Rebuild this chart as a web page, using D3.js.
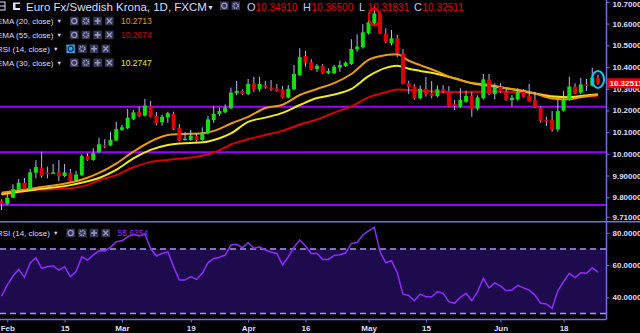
<!DOCTYPE html>
<html>
<head>
<meta charset="utf-8">
<script src="https://cdn.jsdelivr.net/npm/d3@7"></script>
<style>
body { margin: 0; background: #000; overflow: hidden; }
svg { display: block; }
text { font-family: "Liberation Sans", Arial, sans-serif; }
</style>
</head>
<body>
<script>
// EUR/SEK daily candles, 31 Jan - 26 Jun 2018
var opens = [9.784,9.769,9.798,9.835,9.867,9.837,9.913,9.936,9.914,9.912,
9.915,9.898,9.913,9.879,9.902,9.990,9.972,10.007,10.040,10.038,
10.061,10.111,10.118,10.161,10.194,10.176,10.220,10.174,10.145,10.168,
10.184,10.120,10.064,10.064,10.082,10.064,10.095,10.156,10.184,10.191,
10.210,10.279,10.290,10.276,10.325,10.297,10.317,10.305,10.301,10.297,
10.259,10.297,10.363,10.451,10.423,10.391,10.405,10.371,10.371,10.397,
10.404,10.414,10.482,10.491,10.556,10.601,10.647,10.555,10.509,10.532,
10.463,10.325,10.312,10.256,10.299,10.280,10.266,10.297,10.289,10.230,
10.217,10.240,10.267,10.208,10.256,10.343,10.276,10.309,10.286,10.248,
10.251,10.286,10.267,10.248,10.214,10.157,10.156,10.113,10.199,10.249,
10.310,10.282,10.320,10.314,10.3491];
var highs = [9.790,9.821,9.860,9.884,9.889,9.930,9.971,10.010,9.941,9.953,
9.971,9.953,9.930,9.921,9.998,10.003,10.026,10.074,10.067,10.102,
10.148,10.133,10.207,10.202,10.217,10.253,10.243,10.193,10.180,10.194,
10.194,10.137,10.100,10.110,10.095,10.122,10.174,10.220,10.214,10.228,
10.305,10.336,10.297,10.345,10.355,10.355,10.336,10.340,10.322,10.312,
10.317,10.409,10.486,10.475,10.436,10.414,10.414,10.394,10.410,10.429,
10.425,10.528,10.550,10.597,10.650,10.678,10.652,10.578,10.571,10.548,
10.482,10.337,10.320,10.315,10.354,10.335,10.315,10.316,10.312,10.248,
10.302,10.291,10.285,10.270,10.368,10.368,10.325,10.325,10.298,10.271,
10.302,10.298,10.322,10.286,10.220,10.171,10.197,10.248,10.291,10.355,
10.325,10.350,10.345,10.397,10.365];
var lows = [9.741,9.765,9.795,9.825,9.833,9.833,9.887,9.890,9.887,9.910,
9.874,9.892,9.872,9.875,9.898,9.968,9.968,10.003,10.026,10.035,
10.058,10.105,10.113,10.155,10.170,10.172,10.168,10.131,10.130,10.143,
10.110,10.058,10.061,10.060,10.056,10.060,10.090,10.143,10.174,10.187,
10.205,10.270,10.270,10.270,10.286,10.286,10.300,10.290,10.286,10.255,
10.255,10.293,10.360,10.402,10.386,10.378,10.367,10.367,10.367,10.378,
10.400,10.410,10.470,10.485,10.550,10.590,10.552,10.509,10.500,10.445,
10.320,10.276,10.250,10.250,10.264,10.256,10.260,10.280,10.215,10.202,
10.210,10.235,10.171,10.200,10.250,10.270,10.251,10.280,10.245,10.219,
10.245,10.260,10.240,10.210,10.144,10.128,10.102,10.102,10.195,10.245,
10.275,10.275,10.290,10.310,10.31831];
var closes = [9.769,9.798,9.837,9.867,9.837,9.915,9.939,9.898,9.912,9.915,
9.898,9.915,9.875,9.905,9.990,9.972,10.003,10.044,10.037,10.064,
10.114,10.122,10.166,10.191,10.176,10.222,10.171,10.141,10.171,10.187,
10.116,10.061,10.070,10.084,10.064,10.097,10.159,10.184,10.197,10.213,
10.282,10.290,10.276,10.322,10.297,10.322,10.307,10.301,10.290,10.259,
10.300,10.368,10.445,10.420,10.390,10.405,10.371,10.382,10.402,10.409,
10.420,10.483,10.494,10.560,10.606,10.647,10.555,10.514,10.532,10.463,
10.322,10.309,10.256,10.299,10.274,10.266,10.297,10.288,10.218,10.220,
10.248,10.267,10.208,10.260,10.343,10.276,10.307,10.286,10.248,10.259,
10.286,10.263,10.243,10.214,10.153,10.153,10.113,10.197,10.249,10.310,
10.279,10.320,10.317,10.351,10.32511];

// moving averages, read at these bar numbers
var emaIdx = [0,6,12,15,17,20,23,26,29,31,35,38,40,43,46,49,52,55,58,61,64,67,69,71,73,76,79,82,85,88,90,93,96,99,101,104];
var ema20 = [9.821,9.843,9.868,9.890,9.912,9.955,10.010,10.057,10.087,10.091,10.095,10.115,10.140,10.170,10.211,10.226,10.271,10.299,10.326,10.368,10.433,10.455,10.459,10.429,10.409,10.379,10.347,10.327,10.318,10.302,10.295,10.278,10.255,10.251,10.261,10.2713];
var ema30 = [9.815,9.836,9.856,9.874,9.889,9.926,9.979,10.018,10.041,10.048,10.053,10.072,10.094,10.147,10.167,10.189,10.225,10.257,10.273,10.299,10.358,10.396,10.406,10.392,10.382,10.368,10.348,10.325,10.314,10.302,10.293,10.278,10.264,10.261,10.266,10.2747];
var ema55 = [9.810,9.833,9.841,9.857,9.878,9.902,9.938,9.963,9.972,9.978,9.991,10.016,10.043,10.067,10.087,10.106,10.135,10.158,10.190,10.219,10.260,10.284,10.297,10.294,10.291,10.286,10.285,10.286,10.286,10.286,10.284,10.278,10.266,10.261,10.263,10.2674];

var rsi = [40.8,47.6,53.2,57.3,52.4,61.4,64.5,58.0,59.0,59.6,
56.9,59.0,52.8,55.9,65.1,63.1,66.2,68.9,68.7,71.0,
74.4,75.0,77.5,79.0,78.0,79.2,70.3,65.6,67.2,68.2,
59.0,50.7,50.7,52.8,51.1,54.9,61.4,64.1,64.8,66.2,
72.4,72.8,70.7,73.8,70.3,71.3,69.3,67.9,67.2,60.0,
65.1,71.0,75.5,71.8,67.2,67.2,63.5,63.5,66.0,66.4,
67.6,73.4,74.0,78.6,81.2,83.3,68.2,61.4,62.7,55.2,
42.0,41.2,37.9,42.0,40.4,40.4,43.5,42.5,37.3,36.3,
40.0,42.5,37.9,43.5,51.8,45.9,49.0,47.0,44.1,44.5,
47.4,45.9,44.5,41.4,36.3,35.9,33.2,44.1,49.7,54.9,
52.1,55.2,54.9,58.3,55.6354];

var levels = [10.217, 10.007, 9.764];     // drawn support lines
var priceTicks = [10.7, 10.6, 10.5, 10.4, 10.3, 10.2, 10.1, 10.0, 9.9, 9.8, 9.71];
var rsiTicks = [80, 60, 40];
var tickDays = ["2018-02-01","2018-02-15","2018-03-01","2018-03-19","2018-04-02","2018-04-16","2018-05-01","2018-05-15","2018-06-01","2018-06-18"];
var tickLabels = ["Feb","15","Mar","19","Apr","16","May","15","Jun","18"];

var width = 640, height = 333;
var axisX = 606.5, sepY = 221.7, bottomY = 319.5;
var lineCol = "#7070e6", textCol = "#dcdcff";

var fmtDay = d3.timeFormat("%Y-%m-%d");
var days = d3.timeDay.range(new Date(2018,0,31), new Date(2018,5,27))
  .filter(function(d){ return d.getDay() != 0 && d.getDay() != 6; })
  .map(fmtDay);

var bars = days.map(function(d, i){
  return {day: d, o: opens[i], h: highs[i], l: lows[i], c: closes[i], rsi: rsi[i]};
});

var x = d3.scalePoint().domain(days).range([1.5, 598]);
var y = d3.scaleLinear().domain([9.71, 10.70]).range([216.8, 1.9]);
var ry = d3.scaleLinear().domain([30, 70]).range([313.5, 248.9]);

var svg = d3.select("body").append("svg")
  .attr("width", width)
  .attr("height", height);

svg.append("rect").attr("width", width).attr("height", height).attr("fill", "#000");

var defs = svg.append("defs");
defs.append("clipPath").attr("id", "mainClip")
  .append("rect").attr("x", 0).attr("y", 0).attr("width", axisX).attr("height", sepY);
defs.append("clipPath").attr("id", "rsiClip")
  .append("rect").attr("x", 0).attr("y", sepY + 1).attr("width", axisX).attr("height", bottomY - sepY - 1);

// ---- price panel ----
var main = svg.append("g").attr("clip-path", "url(#mainClip)");

main.selectAll("line.level")
  .data(levels)
  .enter().append("line")
  .attr("class", "level")
  .attr("x1", 0).attr("x2", axisX)
  .attr("y1", function(d){ return y(d); })
  .attr("y2", function(d){ return y(d); })
  .attr("stroke", "#9b00ff")
  .attr("stroke-width", 2);

var emaLine = d3.line()
  .x(function(d){ return x(days[d[0]]); })
  .y(function(d){ return y(d[1]); })
  .curve(d3.curveMonotoneX);

[[ema55, "#d80000"], [ema30, "#f0ea1c"], [ema20, "#e99a10"]].forEach(function(e){
  main.append("path")
    .datum(emaIdx.map(function(idx, k){ return [idx, e[0][k]]; }))
    .attr("d", emaLine)
    .attr("fill", "none")
    .attr("stroke", e[1])
    .attr("stroke-width", 2);
});

var candle = main.selectAll("g.candle")
  .data(bars)
  .enter().append("g")
  .attr("class", "candle");

candle.append("line")
  .attr("x1", function(d){ return x(d.day); })
  .attr("x2", function(d){ return x(d.day); })
  .attr("y1", function(d){ return y(d.h); })
  .attr("y2", function(d){ return y(d.l); })
  .attr("stroke", "#b9b9f5")
  .attr("stroke-width", 1);

candle.append("rect")
  .attr("x", function(d){ return x(d.day) - 2; })
  .attr("width", 4)
  .attr("y", function(d){ return y(Math.max(d.o, d.c)); })
  .attr("height", function(d){ return Math.max(1.5, Math.abs(y(d.o) - y(d.c))); })
  .attr("fill", function(d){ return d.c >= d.o ? "#12e012" : "#e00000"; });

// marks drawn on the chart by the analyst
var last = bars[bars.length - 1];
main.append("ellipse")
  .attr("cx", x(days[65])).attr("cy", y(10.63))
  .attr("rx", 5.5).attr("ry", 8.5)
  .attr("fill", "none").attr("stroke", "#e00000").attr("stroke-width", 2);
main.append("ellipse")
  .attr("cx", x(last.day)).attr("cy", y(10.343))
  .attr("rx", 6).attr("ry", 8.5)
  .attr("fill", "none").attr("stroke", "#18c0f0").attr("stroke-width", 2);

// ---- RSI panel ----
var lower = svg.append("g").attr("clip-path", "url(#rsiClip)");
lower.append("rect")
  .attr("x", 0).attr("width", axisX)
  .attr("y", ry(70)).attr("height", ry(30) - ry(70))
  .attr("fill", "#1d0b4e");
lower.selectAll("line.band")
  .data([70, 30])
  .enter().append("line")
  .attr("x1", 0).attr("x2", axisX)
  .attr("y1", function(d){ return ry(d); })
  .attr("y2", function(d){ return ry(d); })
  .attr("stroke", "#a898f0")
  .attr("stroke-width", 1.5)
  .attr("stroke-dasharray", "6,4");
lower.append("path")
  .datum(bars)
  .attr("d", d3.line().x(function(d){ return x(d.day); }).y(function(d){ return ry(d.rsi); }))
  .attr("fill", "none")
  .attr("stroke", "#8f2bff")
  .attr("stroke-width", 1.5);

// frame lines
svg.append("line").attr("x1", 0).attr("x2", width).attr("y1", sepY).attr("y2", sepY)
  .attr("stroke", lineCol).attr("stroke-width", 1.5);
svg.append("line").attr("x1", 0).attr("x2", axisX).attr("y1", bottomY).attr("y2", bottomY)
  .attr("stroke", lineCol).attr("stroke-width", 1.5);
svg.append("line").attr("x1", axisX).attr("x2", axisX).attr("y1", 0).attr("y2", bottomY)
  .attr("stroke", lineCol).attr("stroke-width", 1.5);

// ---- axes ----
function styleAxis(g) {
  g.select(".domain").remove();
  g.selectAll(".tick line").attr("stroke", lineCol);
  g.selectAll(".tick text")
    .attr("fill", textCol)
    .style("font-size", "8px")
    .style("font-weight", "bold")
    .style("font-family", "'Liberation Sans', Arial, sans-serif");
}

var priceAxis = svg.append("g")
  .attr("transform", "translate(" + axisX + ",0)")
  .call(d3.axisRight(y).tickValues(priceTicks).tickSize(3).tickFormat(d3.format(".6r")))
  .call(styleAxis);
// keep the top label inside the window
priceAxis.selectAll(".tick text").filter(function(d){ return d == 10.7; }).attr("dy", "0.6em");

svg.append("g")
  .attr("transform", "translate(" + axisX + ",0)")
  .call(d3.axisRight(ry).tickValues(rsiTicks).tickSize(3).tickFormat(d3.format(".6r")))
  .call(styleAxis);

svg.append("g")
  .attr("transform", "translate(0," + bottomY + ")")
  .call(d3.axisBottom(x).tickValues(tickDays).tickSize(3)
    .tickFormat(function(d){ return tickLabels[tickDays.indexOf(d)]; }))
  .call(styleAxis);

// current price tag
svg.append("rect")
  .attr("x", axisX + 0.5).attr("y", y(last.c) - 5)
  .attr("width", width - axisX).attr("height", 10)
  .attr("fill", "#e00000");
svg.append("text")
  .attr("x", axisX + 3).attr("y", y(last.c)).attr("dy", "0.35em")
  .attr("fill", "#fff").style("font-size", "8px").style("font-weight", "bold")
  .text(d3.format(".7r")(last.c));

// ---- header + legends ----
var fmt7 = d3.format(".7r");
svg.append("rect").attr("x", -3).attr("y", 2).attr("width", 8).attr("height", 8)
  .attr("fill", "none").attr("stroke", textCol);
svg.append("line").attr("x1", -3).attr("x2", 5).attr("y1", 6).attr("y2", 6).attr("stroke", textCol);
svg.append("rect").attr("x", 13).attr("y", 2.5).attr("width", 7).attr("height", 7.5).attr("fill", textCol);
svg.append("rect").attr("x", 15.5).attr("y", 4).attr("width", 4.5).attr("height", 4).attr("fill", "#000");

svg.append("text").attr("x", 26).attr("y", 10.5)
  .attr("fill", textCol).style("font-size", "11.5px")
  .text("Euro Fx/Swedish Krona, 1D, FXCM");
svg.append("text").attr("x", 207).attr("y", 10).attr("fill", textCol).style("font-size", "7px").text("▼");

function iconBox(g, bx, by, kind, active) {
  var ib = g.append("g").attr("transform", "translate(" + bx + "," + by + ")");
  ib.append("rect").attr("width", 8.5).attr("height", 8.5)
    .attr("fill", active ? "#3aa8e8" : "#36365a");
  var c = active ? "#0a2050" : "#9a9ab8";
  if (kind == 0) {
    ib.append("circle").attr("cx", 4.25).attr("cy", 4.25).attr("r", 2.6).attr("fill", "none").attr("stroke", c).attr("stroke-width", 1.2);
  } else if (kind == 1) {
    ib.append("circle").attr("cx", 4.25).attr("cy", 4.25).attr("r", 2.4).attr("fill", "none").attr("stroke", c).attr("stroke-width", 1.8).attr("stroke-dasharray", "1.2,0.8");
  } else if (kind == 2) {
    ib.append("path").attr("d", "M4.25,1.3V7.2M1.3,4.25H7.2").attr("stroke", c).attr("stroke-width", 1.6);
  } else {
    ib.append("path").attr("d", "M1.8,1.8L6.7,6.7M6.7,1.8L1.8,6.7").attr("stroke", c).attr("stroke-width", 1.4);
  }
}

iconBox(svg, 220, 1.5, 0, false);
iconBox(svg, 231.5, 1.5, 1, false);

var ohlcNames = ["O", "H", "L", "C"];
var ohlcVals = [last.o, last.h, last.l, last.c];
var ohlcX = [247, 303, 359, 414];
ohlcNames.forEach(function(n, i){
  svg.append("text").attr("x", ohlcX[i]).attr("y", 10.5).attr("fill", "#c8c8ff")
    .style("font-size", "11px").text(n);
  svg.append("text").attr("x", ohlcX[i] + 8.5).attr("y", 10.5).attr("fill", "#e00000")
    .style("font-size", "10px").text(fmt7(ohlcVals[i]));
});

var legendNames = ["EMA (20, close)", "EMA (55, close)", "RSI (14, close)", "EMA (30, close)"];
var legendVals = [ema20[ema20.length - 1], ema55[ema55.length - 1], null, ema30[ema30.length - 1]];
var legendCols = ["#e89a10", "#c80000", null, "#e8e81a"];

function legendRow(name, val, col, cy, active) {
  var t = svg.append("text").attr("x", -3).attr("y", cy).attr("dy", "0.35em")
    .attr("fill", textCol).style("font-size", "8px").text(name);
  var end = -3 + t.node().getComputedTextLength();
  svg.append("text").attr("x", end + 3).attr("y", cy).attr("dy", "0.35em")
    .attr("fill", textCol).style("font-size", "5.5px").text("▼");
  var ix = end + 16.5;
  for (var k = 0; k < 4; k++) iconBox(svg, ix + k * 11.7, cy - 4.25, k, active && k == 0);
  if (val != null) {
    svg.append("text").attr("x", ix + 51).attr("y", cy).attr("dy", "0.35em")
      .attr("fill", col).style("font-size", "8.5px").text(d3.format(".6r")(val));
  }
}

legendNames.forEach(function(n, i){
  legendRow(n, legendVals[i], legendCols[i], 21 + i * 13.9, i == 2);
});
legendRow("RSI (14, close)", last.rsi, "#8f2bff", 233, false);
</script>
</body>
</html>
